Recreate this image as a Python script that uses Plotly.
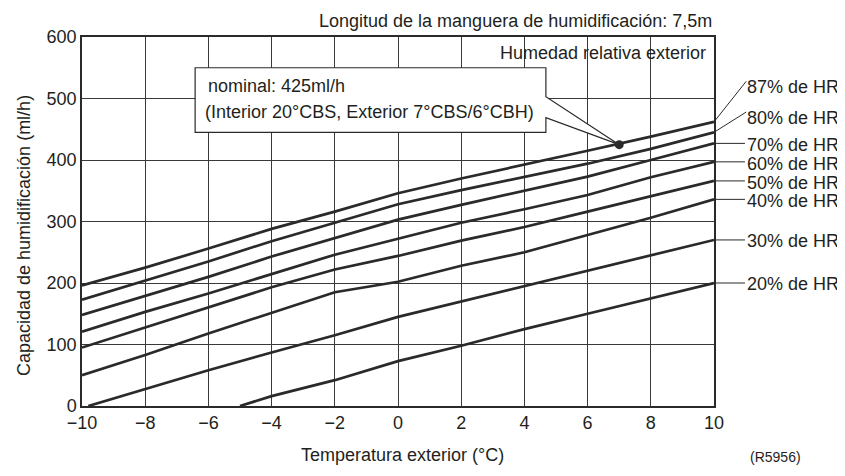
import plotly.graph_objects as go

# ---- data ----
temp = [-10, -8, -6, -4, -2, 0, 2, 4, 6, 8, 10]
hr87 = [196, 225, 256, 288, 316, 346, 370, 392, 415, 438, 462]
hr80 = [173, 204, 235, 268, 298, 328, 351, 372, 394, 418, 445]
hr70 = [148, 179, 210, 243, 273, 303, 327, 350, 373, 400, 427]
hr60 = [121, 153, 183, 215, 246, 272, 298, 320, 343, 372, 397]
hr50 = [95, 128, 160, 193, 222, 244, 269, 291, 316, 341, 366]
hr40 = [50, 83, 118, 151, 185, 202, 228, 250, 278, 306, 336]
temp30 = [-9.8, -8, -6, -4, -2, 0, 2, 4, 6, 8, 10]
hr30 = [0, 28, 58, 87, 115, 145, 170, 196, 221, 245, 270]
temp20 = [-5, -4, -2, 0, 2, 4, 6, 8, 10]
hr20 = [0, 16, 42, 73, 98, 125, 150, 175, 200]

series_names = ["87% de HR", "80% de HR", "70% de HR", "60% de HR",
                "50% de HR", "40% de HR", "30% de HR", "20% de HR"]
series_x = [temp, temp, temp, temp, temp, temp, temp30, temp20]
series_y = [hr87, hr80, hr70, hr60, hr50, hr40, hr30, hr20]
# label vertical positions (in ml/h units of the y axis)
label_y = [519, 469, 424, 393, 363, 333, 268, 198]

nominal_t = 7
nominal_v = 425

x_ticks = [-10, -8, -6, -4, -2, 0, 2, 4, 6, 8, 10]
y_ticks = [0, 100, 200, 300, 400, 500, 600]

FONT = "Liberation Sans, Arial, Helvetica, sans-serif"
INK = "#2a2a2a"
TXT = "#231f20"

fig = go.Figure()
for nm, xs, ys in zip(series_names, series_x, series_y):
    fig.add_trace(go.Scatter(x=xs, y=ys, mode="lines", name=nm,
                             line=dict(color=INK, width=2.7),
                             showlegend=False, hoverinfo="skip"))

fig.add_trace(go.Scatter(x=[nominal_t], y=[nominal_v], mode="markers",
                         marker=dict(color=INK, size=9), showlegend=False))

shapes = []
# callout box with pointer to the nominal point
bx0, bx1, by0, by1 = -6.42, 4.68, 445, 550
p_top, p_bot = 503, 469
path = (f"M {bx0},{by1} L {bx1},{by1} L {bx1},{p_top} L {nominal_t},{nominal_v} "
        f"L {bx1},{p_bot} L {bx1},{by0} L {bx0},{by0} Z")
shapes.append(dict(type="path", path=path, xref="x", yref="y", layer="above",
                   fillcolor="white", line=dict(color=INK, width=1.2)))

annotations = []
# leader lines + labels on the right
for nm, ys, ly in zip(series_names, series_y, label_y):
    end = ys[-1]
    if abs(ly - end) > 20:
        shapes.append(dict(type="line", xref="paper", yref="y",
                           x0=1.0, y0=end, x1=1.051, y1=ly + 9,
                           line=dict(color=INK, width=1)))
    else:
        shapes.append(dict(type="line", xref="paper", yref="y",
                           x0=1.0, y0=end, x1=1.049, y1=end,
                           line=dict(color=INK, width=1)))
    annotations.append(dict(text=nm, xref="paper", yref="y", x=1.049, y=ly,
                            xanchor="left", yanchor="middle", showarrow=False,
                            font=dict(size=18, color=TXT)))

annotations += [
    dict(text="Longitud de la manguera de humidificación: 7,5m", xref="paper",
         yref="paper", x=1.0, y=1.043, xanchor="right", yanchor="middle",
         showarrow=False, font=dict(size=18, color=TXT)),
    dict(text="Humedad relativa exterior", xref="paper", yref="paper",
         x=0.99, y=0.957, xanchor="right", yanchor="middle", showarrow=False,
         font=dict(size=18, color=TXT)),
    dict(text="nominal: 425ml/h", xref="paper", yref="paper", x=0.196, y=0.866,
         xanchor="left", yanchor="middle", showarrow=False,
         font=dict(size=18, color=TXT)),
    dict(text="(Interior 20°CBS, Exterior 7°CBS/6°CBH)", xref="paper",
         yref="paper", x=0.192, y=0.798, xanchor="left", yanchor="middle",
         showarrow=False, font=dict(size=18, color=TXT)),
    dict(text="Capacidad de humidificación (ml/h)", xref="paper", yref="paper",
         x=-0.092, y=0.463, xanchor="center", yanchor="middle",
         textangle=-90, showarrow=False, font=dict(size=18, color=TXT)),
    dict(text="Temperatura exterior (°C)", xref="paper", yref="paper",
         x=0.507, y=-0.133, xanchor="center", yanchor="middle",
         showarrow=False, font=dict(size=18, color=TXT)),
    dict(text="(R5956)", xref="paper", yref="paper", x=1.098, y=-0.166,
         xanchor="center", yanchor="bottom", showarrow=False,
         font=dict(size=14, color=TXT)),
]

# the page adds an 8px body margin, so the figure is sized/offset to compensate
fig.update_layout(
    width=837, height=460,
    margin=dict(l=74, r=131, t=29, b=62),
    paper_bgcolor="white", plot_bgcolor="white",
    font=dict(family=FONT, size=18, color=TXT),
    shapes=shapes, annotations=annotations,
    xaxis=dict(range=[-10, 10], tickvals=x_ticks, showgrid=True,
               gridcolor="#3a3a3a", gridwidth=1, zeroline=False,
               showline=True, linecolor="#2a2a2a", linewidth=1.5, mirror=True,
               ticks="", tickfont=dict(size=18, color=TXT)),
    yaxis=dict(range=[0, 600], tickvals=y_ticks, showgrid=True,
               gridcolor="#3a3a3a", gridwidth=1, zeroline=False,
               showline=True, linecolor="#2a2a2a", linewidth=1.5, mirror=True,
               ticks="", tickfont=dict(size=18, color=TXT)),
)

fig.write_html("out.html")
